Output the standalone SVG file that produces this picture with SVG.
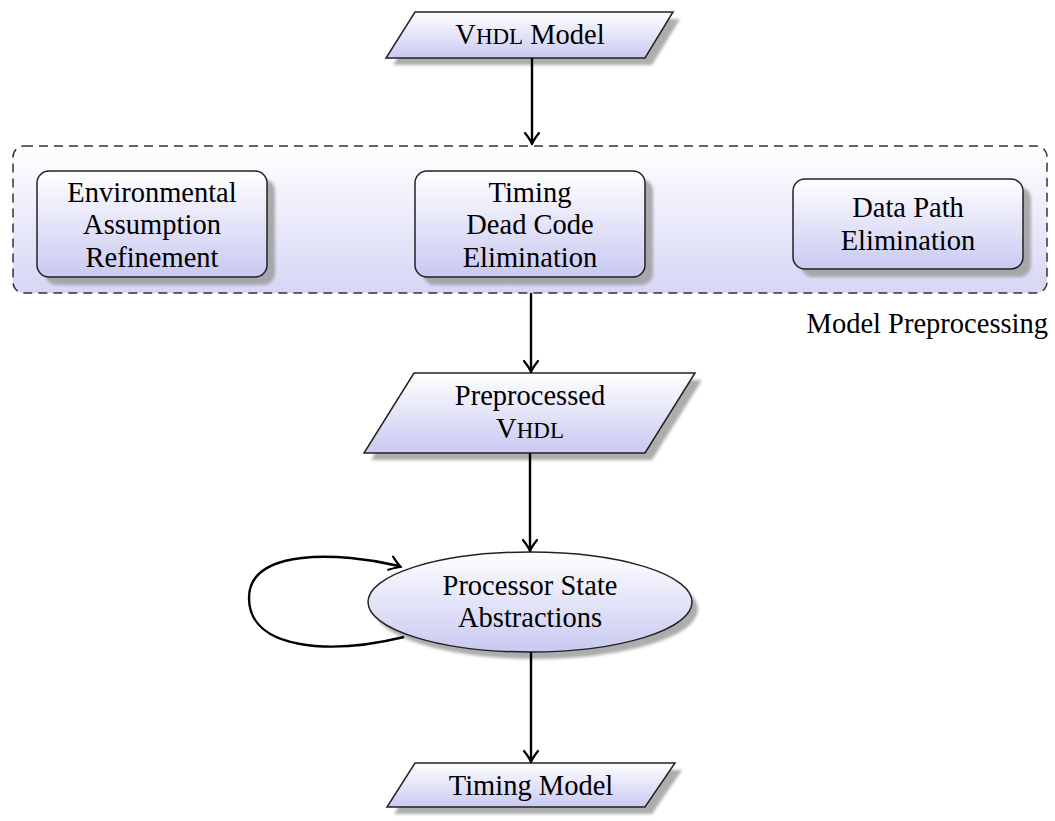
<svg xmlns="http://www.w3.org/2000/svg" width="1055" height="821" viewBox="0 0 1055 821">
<defs>
<linearGradient id="g" x1="0" y1="0" x2="0" y2="1">
<stop offset="0" stop-color="#ffffff"/>
<stop offset="1" stop-color="#c9c9f2"/>
</linearGradient>
<linearGradient id="gb" x1="0" y1="0" x2="0" y2="1">
<stop offset="0" stop-color="#ffffff"/>
<stop offset="1" stop-color="#d6d6f6"/>
</linearGradient>
<filter id="blur" x="-10%" y="-10%" width="120%" height="120%">
<feGaussianBlur stdDeviation="1.5"/>
</filter>
<path id="ahd" d="M -7,-11 Q -1.5,-4 0,0 Q 1.5,-4 7,-11" fill="none" stroke="#000" stroke-width="2.2" stroke-linecap="round" stroke-linejoin="round"/>
</defs>
<style>
.node{fill:url(#g);stroke:#222;stroke-width:1.5}
.shadow{fill:#999;opacity:0.8;filter:url(#blur)}
.conn{fill:none;stroke:#000;stroke-width:2.4}
</style>

<g id="preprocessing">
<rect x="13" y="146" width="1034" height="147" rx="11" fill="url(#gb)" stroke="#333" stroke-width="1.5" stroke-dasharray="9,6"/>
<text x="1048" y="333" text-anchor="end" font-family="Liberation Serif" font-size="28.5">Model Preprocessing</text>
</g>

<g id="vhdl-model">
<polygon class="shadow" points="422,19 680,19 652,65 393,65"/>
<polygon class="node" points="415,12 673,12 645,58 386,58"/>
<text x="530" y="44" text-anchor="middle" font-family="Liberation Serif" font-size="28.5">V<tspan font-size="23">HDL</tspan> Model</text>
</g>

<g id="env">
<rect class="shadow" x="45" y="179" width="230" height="106" rx="12"/>
<rect class="node" x="37" y="171" width="230" height="106" rx="12"/>
<text x="152" y="202" text-anchor="middle" font-family="Liberation Serif" font-size="28.5">Environmental</text>
<text x="152" y="234" text-anchor="middle" font-family="Liberation Serif" font-size="28.5">Assumption</text>
<text x="152" y="267" text-anchor="middle" font-family="Liberation Serif" font-size="28.5">Refinement</text>
</g>

<g id="tdce">
<rect class="shadow" x="423" y="179" width="230" height="106" rx="12"/>
<rect class="node" x="415" y="171" width="230" height="106" rx="12"/>
<text x="530" y="202" text-anchor="middle" font-family="Liberation Serif" font-size="28.5">Timing</text>
<text x="530" y="234" text-anchor="middle" font-family="Liberation Serif" font-size="28.5">Dead Code</text>
<text x="530" y="267" text-anchor="middle" font-family="Liberation Serif" font-size="28.5">Elimination</text>
</g>

<g id="dpe">
<rect class="shadow" x="801" y="187" width="230" height="90" rx="12"/>
<rect class="node" x="793" y="179" width="230" height="90" rx="12"/>
<text x="908" y="217" text-anchor="middle" font-family="Liberation Serif" font-size="28.5">Data Path</text>
<text x="908" y="250" text-anchor="middle" font-family="Liberation Serif" font-size="28.5">Elimination</text>
</g>

<g id="preprocessed">
<polygon class="shadow" points="421,380 702,380 652,460 371,460"/>
<polygon class="node" points="414,373 695,373 645,453 364,453"/>
<text x="530" y="405" text-anchor="middle" font-family="Liberation Serif" font-size="28.5">Preprocessed</text>
<text x="530" y="438" text-anchor="middle" font-family="Liberation Serif" font-size="28.5">V<tspan font-size="23">HDL</tspan></text>
</g>

<g id="psa">
<ellipse class="shadow" cx="536" cy="609" rx="162" ry="50"/>
<ellipse class="node" cx="530" cy="602" rx="162" ry="50"/>
<text x="530" y="595" text-anchor="middle" font-family="Liberation Serif" font-size="28.5">Processor State</text>
<text x="530" y="627" text-anchor="middle" font-family="Liberation Serif" font-size="28.5">Abstractions</text>
</g>

<g id="timing-model">
<polygon class="shadow" points="422,770 682,770 652,814 394,814"/>
<polygon class="node" points="415,763 675,763 645,807 387,807"/>
<text x="531" y="795" text-anchor="middle" font-family="Liberation Serif" font-size="28.5">Timing Model</text>
</g>

<g id="connectors">
<line class="conn" x1="532" y1="58" x2="532" y2="143"/>
<use href="#ahd" transform="translate(532,144)"/>
<line class="conn" x1="531" y1="293" x2="531" y2="371"/>
<use href="#ahd" transform="translate(531,372)"/>
<line class="conn" x1="530" y1="453" x2="530" y2="550"/>
<use href="#ahd" transform="translate(530,551)"/>
<line class="conn" x1="531" y1="652" x2="531" y2="761"/>
<use href="#ahd" transform="translate(531,762)"/>
<path class="conn" d="M 404,637 C 330,655 249,650 249,598 C 249,548 340,552 399,566"/>
<use href="#ahd" transform="translate(401,567) rotate(-70)"/>
</g>
</svg>
